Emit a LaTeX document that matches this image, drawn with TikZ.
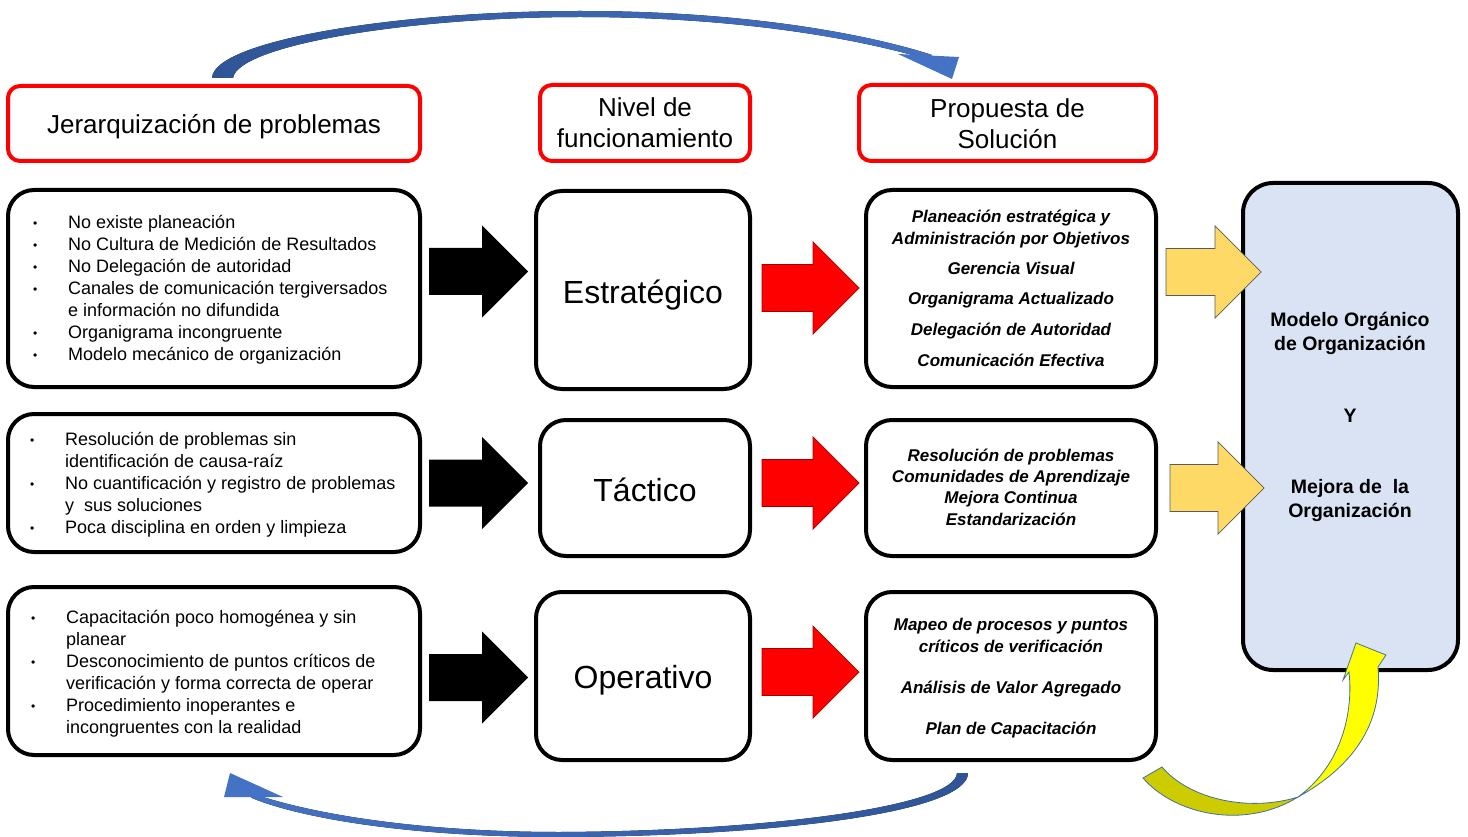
\documentclass[tikz,border=0pt]{standalone}
\usepackage{fontspec}
\setmainfont{Liberation Sans}
\usetikzlibrary{calc}
\definecolor{hdrred}{HTML}{FF0000}
\definecolor{arrred}{HTML}{FF0000}
\definecolor{arrredline}{HTML}{A00000}
\definecolor{gold}{HTML}{FFD966}
\definecolor{goldline}{HTML}{5A5A5A}
\definecolor{paleblue}{HTML}{DAE3F3}
\definecolor{arcdark}{HTML}{2F5597}
\definecolor{arclight}{HTML}{4472C4}
\definecolor{ydark}{HTML}{CCCC00}
\definecolor{ybright}{HTML}{FFFF00}
\definecolor{yline}{HTML}{41719C}

% bullet with its hanging space, and the indent of a wrapped line
\newcommand\itm{\makebox[37pt][l]{\hspace*{2pt}\raisebox{1.5pt}{\fontsize{12}{12}\selectfont •}}}
\newcommand\cnt{\hspace*{37pt}}

% horizontal block arrow between two nodes:
% #1 style, #2 from node, #3 gap after it, #4 to node, #5 gap before it, #6 centre y
\newcommand\blockarr[6]{%
  \path[#1] let \p1=($(#2.east)+(#3,0)$), \p2=($(#4.west)+(#5,0)$), \p3=(0,#6) in
    (\x1,\y3+23.5pt) -- (\x2-46pt,\y3+23.5pt) -- (\x2-46pt,\y3+46pt) --
    (\x2,\y3) -- (\x2-46pt,\y3-46pt) -- (\x2-46pt,\y3-23.5pt) --
    (\x1,\y3-23.5pt) -- cycle;}

\begin{document}
\begin{tikzpicture}[x=1pt,y=-1pt,
  box/.style={draw=black, line width=4pt, rounded corners=26pt, inner sep=0pt},
  hdr/.style={draw=hdrred, line width=4pt, rounded corners=12pt, inner sep=0pt},
  hdrtext/.style={inner sep=0pt, align=center, font=\fontsize{26}{31}\selectfont},
  lvltext/.style={inner sep=0pt, font=\fontsize{32}{38}\selectfont},
  listtext/.style={inner sep=0pt, align=left, anchor=west, font=\fontsize{18}{22}\selectfont},
  soltext/.style={inner sep=0pt, align=center, font=\fontsize{17}{22}\selectfont\bfseries\itshape},
  blackarr/.style={fill=black},
  redarr/.style={fill=arrred, draw=arrredline, line width=0.7pt},
  goldarr/.style={fill=gold, draw=goldline, line width=0.7pt}]

\useasboundingbox[fill=white] (0,0) rectangle (1468,837);

% column headers
\node[hdr, minimum width=412pt, minimum height=75pt] (H1) at (214,123.5) {};
\node[hdr, minimum width=210pt, minimum height=76pt] (H2) at (645,123) {};
\node[hdr, minimum width=297pt, minimum height=76pt] (H3) at (1007.5,123) {};
\node[hdrtext] (H1t) at ($(H1)+(0,3)$) {Jerarquización de problemas};
\node[hdrtext] (H2t) at ($(H2)+(0,0)$) {Nivel de\\funcionamiento};
\node[hdrtext] (H3t) at ($(H3)+(0,1)$) {Propuesta de\\Solución};

% problem boxes
\node[box, minimum width=412pt, minimum height=197pt] (L1) at (214,288.5) {};
\node[box, minimum width=412pt, minimum height=138pt] (L2) at (214,483) {};
\node[box, minimum width=412pt, minimum height=168pt] (L3) at (214,671) {};

\node[listtext] (T1) at (31,290) {%
  \itm No existe planeación\\
  \itm No Cultura de Medición de Resultados\\
  \itm No Delegación de autoridad\\
  \itm Canales de comunicación tergiversados\\
  \cnt e información no difundida\\
  \itm Organigrama incongruente\\
  \itm Modelo mecánico de organización};
\node[listtext] (T2) at (28,485) {%
  \itm Resolución de problemas sin\\
  \cnt identificación de causa-raíz\\
  \itm No cuantificación y registro de problemas\\
  \cnt y\ \ sus soluciones\\
  \itm Poca disciplina en orden y limpieza};
\node[listtext] (T3) at (29,674) {%
  \itm Capacitación poco homogénea y sin\\
  \cnt planear\\
  \itm Desconocimiento de puntos críticos de\\
  \cnt verificación y forma correcta de operar\\
  \itm Procedimiento inoperantes e\\
  \cnt incongruentes con la realidad};

% levels
\node[box, minimum width=214pt, minimum height=198pt] (M1) at (643,290) {};
\node[box, minimum width=210pt, minimum height=136pt] (M2) at (645,488) {};
\node[box, minimum width=214pt, minimum height=168pt] (M3) at (643,676) {};
\node[lvltext] (M1t) at ($(M1)+(0,5)$) {Estratégico};
\node[lvltext] (M2t) at ($(M2)+(0,2)$) {Táctico};
\node[lvltext] (M3t) at ($(M3)+(0,4)$) {Operativo};

% solution boxes
\node[box, minimum width=290pt, minimum height=197pt] (S1) at (1011,288.5) {};
\node[box, minimum width=290pt, minimum height=136pt] (S2) at (1011,488) {};
\node[box, minimum width=290pt, minimum height=168pt] (S3) at (1011,676) {};

\node[soltext] (U1) at (1011,288) {%
  Planeación estratégica y\\
  Administración por Objetivos\\[8pt]
  Gerencia Visual\\[8pt]
  Organigrama Actualizado\\[9pt]
  Delegación de Autoridad\\[9pt]
  Comunicación Efectiva};
\node[soltext, font=\fontsize{17}{21.3}\selectfont\bfseries\itshape] (U2) at (1011,487) {%
  Resolución de problemas\\
  Comunidades de Aprendizaje\\
  Mejora Continua\\
  Estandarización};
\node[soltext] (U3) at (1011,678) {%
  Mapeo de procesos y puntos\\
  críticos de verificación\\[19pt]
  Análisis de Valor Agregado\\[19pt]
  Plan de Capacitación};

% outcome box
\node[box, fill=paleblue, rounded corners=30pt, minimum width=215pt, minimum height=487pt] (R) at (1350.5,426.5) {};
\node[inner sep=0pt, align=center, font=\fontsize{19.5}{24}\selectfont\bfseries] (RT) at (1350,416.5) {%
  Modelo Orgánico\\
  de Organización\\[48pt]
  Y\\[47pt]
  Mejora de\ \ la\\
  Organización};

% block arrows between the columns
\blockarr{blackarr}{L1}{7}{M1}{-6}{271.5}
\blockarr{blackarr}{L2}{7}{M2}{-10}{483}
\blockarr{blackarr}{L3}{7}{M3}{-6}{677.5}
\blockarr{redarr}{M1}{10}{S1}{-5}{288}
\blockarr{redarr}{M2}{10}{S2}{-5}{483}
\blockarr{redarr}{M3}{10}{S3}{-5}{672}
\blockarr{goldarr}{S1}{8}{R}{20}{272}
\blockarr{goldarr}{S2}{12}{R}{23}{488}

% blue loop arrow over the headers
\fill[left color=arcdark, right color=arclight]
  (212,78) .. controls (214,40) and (400,11) .. (580,11)
  .. controls (760,11) and (880,38) .. (932,55)
  -- (926,59) .. controls (870,42) and (750,17) .. (580,17)
  .. controls (410,17) and (238,45) .. (233,78) -- cycle;
\fill[arclight] (898,54) -- (959,57) -- (952,79) -- cycle;

% blue return arrow under the boxes
\fill[left color=arclight, right color=arcdark]
  (968,773) .. controls (968,812) and (780,836) .. (560,837)
  .. controls (400,837) and (295,816) .. (252,798)
  -- (246,791) .. controls (292,809) and (400,832) .. (560,832)
  .. controls (770,831) and (956,806) .. (957,773) -- cycle;
\fill[arclight] (230,773) -- (283,797) -- (224,797) -- cycle;

% yellow curved arrow into the outcome box
\filldraw[fill=ydark, draw=yline, line width=0.8pt]
  (1143,778) .. controls (1175,815) and (1245,830) .. (1298,797)
  .. controls (1250,812) and (1190,800) .. (1162,767) -- cycle;
\filldraw[fill=ybright, draw=yline, line width=0.8pt]
  (1298,797) .. controls (1352,767) and (1383,725) .. (1378,667)
  -- (1386,655) -- (1356,643) -- (1343,680) -- (1349,672)
  .. controls (1354,718) and (1338,768) .. (1298,797) -- cycle;

\end{tikzpicture}
\end{document}
